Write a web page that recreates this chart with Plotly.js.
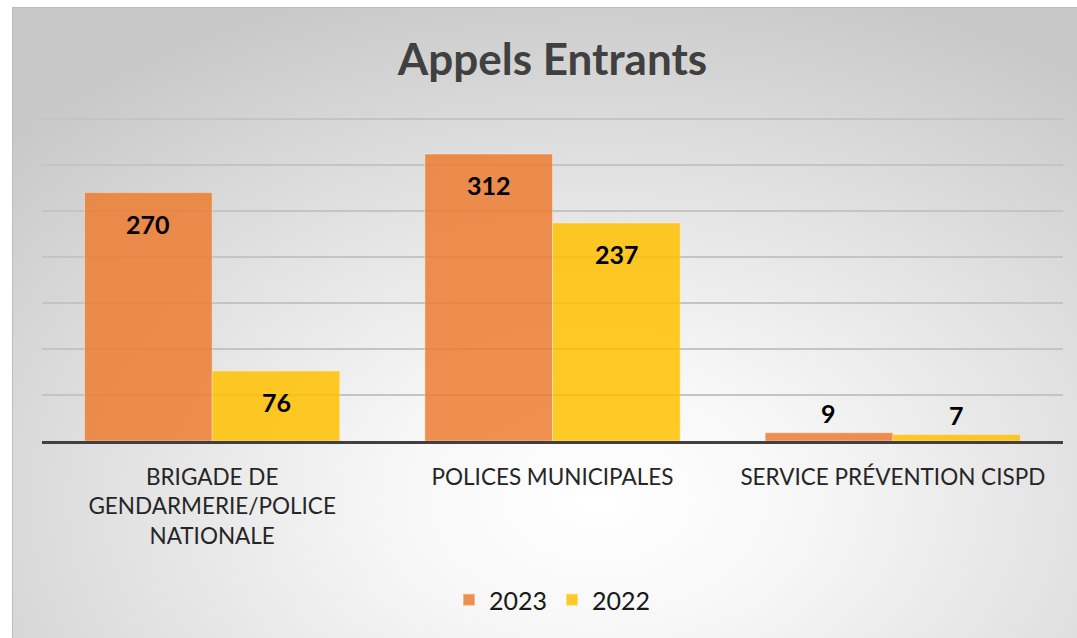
<!DOCTYPE html>
<html>
<head>
<meta charset="utf-8">
<script src="https://cdn.plot.ly/plotly-3.0.1.min.js"></script>
<style>
  html, body { margin: 0; padding: 0; background: #ffffff; }
  #wrap { position: relative; width: 1077px; height: 638px; overflow: hidden; background: #ffffff; }
  #bg { position: absolute; left: 12px; top: 7px; width: 1065px; height: 631px;
        border-left: 1px solid #bdbdbd; border-top: 1px solid #bdbdbd; box-sizing: border-box;
        background: radial-gradient(ellipse 75% 85% at 55% 78%, #ffffff 0%, #f7f7f7 25%, #e2e2e2 60%, #c8c8c8 100%); }
  #chart { position: absolute; left: 0; top: 0; width: 1077px; height: 638px; }
</style>
</head>
<body>
<div id="wrap">
  <div id="bg"></div>
  <div id="chart"></div>
</div>
<script>
const categories = ["BRIGADE DE<br>GENDARMERIE/POLICE<br>NATIONALE", "POLICES MUNICIPALES", "SERVICE PRÉVENTION CISPD"];
const seriesNames = ["2023", "2022"];
const values2023 = [270, 312, 9];
const values2022 = [76, 237, 7];
const gridTicks = [0, 50, 100, 150, 200, 250, 300, 350];

const colors = ["rgba(237,125,49,0.85)", "rgba(255,192,0,0.85)"];
const allValues = [values2023, values2022];

const traces = allValues.map((vals, i) => ({
  type: "bar",
  name: seriesNames[i],
  x: categories,
  y: vals,
  marker: { color: colors[i], line: { color: "rgba(255,255,255,0.35)", width: 1 } },
  hoverinfo: "x+y+name"
}));

const annotations = [];
allValues.forEach((vals, i) => {
  vals.forEach((v, j) => {
    annotations.push({
      x: categories[j], y: v, xref: "x", yref: "y",
      text: String(v), showarrow: false,
      xshift: i === 0 ? -64 : 64,
      yshift: v > 30 ? -31 : 20,
      font: { family: "Lato, 'Open Sans', sans-serif", size: 25, color: "#000000", weight: 700 }
    });
  });
});

const layout = {
  width: 1077, height: 638,
  paper_bgcolor: "rgba(0,0,0,0)",
  plot_bgcolor: "rgba(0,0,0,0)",
  margin: { l: 42, r: 14, t: 117, b: 197 },
  title: {
    text: "<b>Appels Entrants</b>",
    x: 0.5, xref: "paper", xanchor: "center",
    y: 1 - 60 / 638, yref: "container", yanchor: "middle",
    font: { family: "Lato, 'Open Sans', sans-serif", size: 44, color: "#404040" }
  },
  barmode: "group",
  bargap: 0.25,
  bargroupgap: 0,
  xaxis: {
    type: "category",
    showline: true, linecolor: "#404040", linewidth: 3,
    ticks: "", showgrid: false,
    tickfont: { family: "Lato, 'Open Sans', sans-serif", size: 22.5, color: "#262626" },
    ticklabelstandoff: 14,
    automargin: false
  },
  yaxis: {
    range: [0, 352.2],
    tickvals: gridTicks,
    showticklabels: false,
    showgrid: true, gridcolor: "#c4c4c4", gridwidth: 1.5,
    zeroline: false, ticks: "",
    fixedrange: true
  },
  showlegend: true,
  legend: {
    orientation: "h",
    x: 0.5, xanchor: "center",
    y: -(600 - 441) / 324, yanchor: "middle",
    font: { family: "Lato, 'Open Sans', sans-serif", size: 25, color: "#1a1a1a" },
    bgcolor: "rgba(0,0,0,0)",
    itemsizing: "constant"
  },
  annotations: annotations
};

Plotly.newPlot("chart", traces, layout, { displayModeBar: false, staticPlot: true });
</script>
</body>
</html>
